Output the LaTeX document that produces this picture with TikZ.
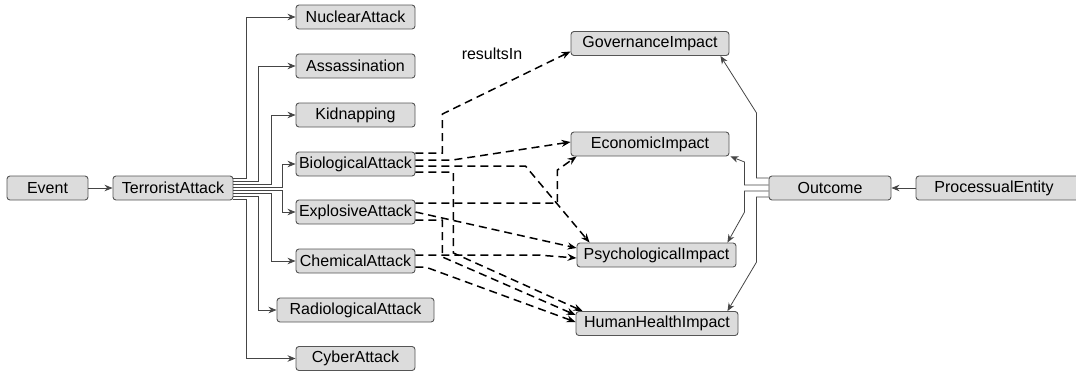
\documentclass[tikz,border=0pt]{standalone}
\usepackage{fontspec}
\setmainfont{Liberation Sans}
\usetikzlibrary{arrows.meta}
\definecolor{boxfill}{HTML}{DCDCDC}
\definecolor{boxline}{HTML}{555555}
\definecolor{linkgray}{HTML}{454545}
\begin{document}
\begin{tikzpicture}[x=1pt,y=-1pt,
  box/.style={draw=boxline, fill=boxfill, line width=0.9pt, rounded corners=3pt,
    inner sep=0pt, minimum height=24pt, font=\fontsize{16}{18}\selectfont},
  isa/.style={draw=linkgray, line width=0.8pt, -{Stealth[length=8pt,width=6.5pt]}},
  rel/.style={draw=black, line width=1.5pt, dash pattern=on 8pt off 5pt,
    -{Stealth[length=9pt,width=7pt]}}]
\useasboundingbox (0,0) rectangle (1076,373);
\clip (0,0) rectangle (1076,373);

% class boxes
\node[box, minimum width=81pt]  (EV) at (47.5,188) {Event};
\node[box, minimum width=120pt] (TA) at (173,188) {TerroristAttack};
\node[box, minimum width=119pt] (NA) at (355.5,17) {NuclearAttack};
\node[box, minimum width=119pt] (AS) at (355.5,66) {Assassination};
\node[box, minimum width=119pt] (KI) at (355.5,115) {Kidnapping};
\node[box, minimum width=119pt] (BA) at (355.5,164) {BiologicalAttack};
\node[box, minimum width=119pt] (EA) at (355.5,212) {ExplosiveAttack};
\node[box, minimum width=119pt] (CA) at (355.5,261) {ChemicalAttack};
\node[box, minimum width=157pt] (RA) at (355.5,310) {RadiologicalAttack};
\node[box, minimum width=119pt] (CY) at (355.5,358.5) {CyberAttack};
\node[box, minimum width=158pt] (GI) at (650,43.5) {GovernanceImpact};
\node[box, minimum width=158pt] (EI) at (650,144) {EconomicImpact};
\node[box, minimum width=159pt] (PI) at (656.5,255) {PsychologicalImpact};
\node[box, minimum width=162pt] (HH) at (657,323.5) {HumanHealthImpact};
\node[box, minimum width=122pt] (OC) at (830,188) {Outcome};
\node[box, minimum width=164pt] (PE) at (998,188) {\hspace*{-8pt}ProcessualEntity};

\node[font=\fontsize{16}{18}\selectfont, anchor=base] (RL) at (492,59) {resultsIn};

% subclass links
\draw[isa] (EV) -- (TA);
\draw[isa] (PE) -- (OC);
\draw[isa] ([yshift=10pt]TA.east) -| ([xshift=-49pt]NA.west) -- (NA.west);
\draw[isa] ([yshift=7pt]TA.east)  -| ([xshift=-37pt]AS.west) -- (AS.west);
\draw[isa] ([yshift=4pt]TA.east)  -| ([xshift=-24pt]KI.west) -- (KI.west);
\draw[isa] ([yshift=1pt]TA.east)  -| ([xshift=-13pt]BA.west) -- (BA.west);
\draw[isa] ([yshift=-2pt]TA.east) -| ([xshift=-13pt]EA.west) -- (EA.west);
\draw[isa] ([yshift=-5pt]TA.east) -| ([xshift=-24pt]CA.west) -- (CA.west);
\draw[isa] ([yshift=-8pt]TA.east) -| ([xshift=-18pt]RA.west) -- (RA.west);
\draw[isa] ([yshift=-11pt]TA.east) -| ([xshift=-49pt]CY.west) -- (CY.west);

% outcome links
\draw[isa] ([yshift=10pt]OC.west) -- ++(-12,0) -- ++(0,-65) -- ([xshift=-9pt]GI.south east);
\draw[isa] ([yshift=3pt]OC.west)  -- ++(-24,0) -- ++(0,-23) -- ([xshift=1pt]EI.south east);
\draw[isa] ([yshift=-3pt]OC.west) -- ++(-24,0) -- ++(0,21)  -- ([xshift=-9pt]PI.north east);
\draw[isa] ([yshift=-9pt]OC.west) -- ++(-12,0) -- ++(0,65)  -- ([xshift=-11pt]HH.north east);

% resultsIn links
\draw[rel] ([yshift=11pt]BA.east) -- ++(27,0) -- ++(0,-39) -- ([yshift=-8pt]GI.west);
\draw[rel] ([yshift=4pt]BA.east)  -- ++(37,0) -- ([yshift=2pt]EI.west);
\draw[rel] ([yshift=-2pt]BA.east) -- ++(110,0) -- ([xshift=13pt]PI.north west);
\draw[rel] ([yshift=-8pt]BA.east) -- ++(38,0) -- ++(0,81) -- ([xshift=7pt]HH.north west);
\draw[rel] ([yshift=9pt]EA.east)  -- ++(142,0) -- ++(0,-33) -- ([xshift=6pt]EI.south west);
\draw[rel] (EA.east) -- ([yshift=7pt]PI.west);
\draw[rel] ([yshift=-8pt]EA.east) -- ++(27,0) -- ++(0,37) -- ([yshift=8.5pt]HH.west);
\draw[rel] ([yshift=6pt]CA.east)  -- ++(122,0) -- ([yshift=-3pt]PI.west);
\draw[rel] ([yshift=-6pt]CA.east) -- ++(10,0) -- ([yshift=1.5pt]HH.west);
\end{tikzpicture}
\end{document}
